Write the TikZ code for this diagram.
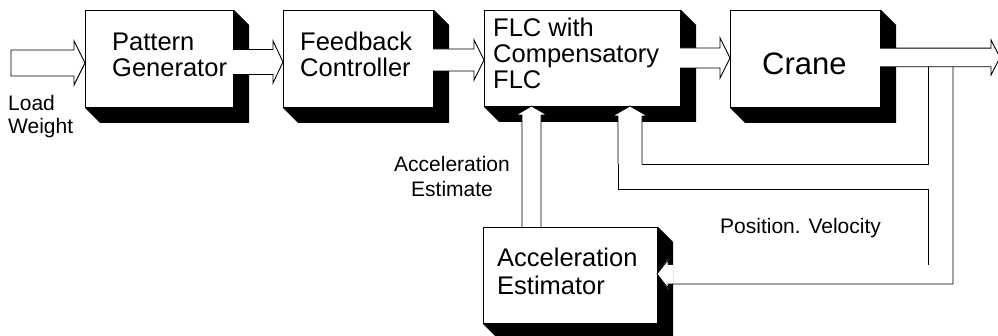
\documentclass[tikz,border=0pt]{standalone}
\usepackage{fontspec}
\setmainfont{Liberation Sans}
\usetikzlibrary{calc}
\tikzset{
  box/.style={draw, line width=1pt, fill=white, anchor=north west, inner sep=0pt},
  shadowfill/.style={fill=black},
  pipe/.style={line width=0.8pt, line join=miter},
  hollow/.style={fill=white, draw=black, line width=0.9pt, line join=miter},
  boxtext/.style={inner sep=0pt, anchor=base west, font=\fontsize{25.5}{27}\selectfont},
  cranetext/.style={inner sep=0pt, anchor=base west, font=\fontsize{31}{33}\selectfont},
  smalltext/.style={inner sep=0pt, font=\fontsize{21}{23}\selectfont},
}
% shadow of a box, offset down-right
\newcommand\boxshadow[1]{%
  \fill[shadowfill] (#1.north east) -- ++(15,15) -- ($(#1.south east)+(15,15)$)
    -- ($(#1.south west)+(15,15)$) -- (#1.south west) -- (#1.south east) -- cycle;}
% horizontal hollow arrow: start, tip, half shaft, half head, head length
\newcommand\hollowH[5]{%
  \filldraw[hollow] ($(#1)+(0,-#3)$) -- ($(#2)+(-#5,-#3)$) -- ($(#2)+(-#5,-#4)$) -- (#2)
    -- ($(#2)+(-#5,#4)$) -- ($(#2)+(-#5,#3)$) -- ($(#1)+(0,#3)$);}
% vertical hollow arrow pointing up: start (below), tip, half shaft, half head, head length
\newcommand\hollowV[5]{%
  \filldraw[hollow] ($(#1)+(-#3,0)$) -- ($(#2)+(-#3,#5)$) -- ($(#2)+(-#4,#5)$) -- (#2)
    -- ($(#2)+(#4,#5)$) -- ($(#2)+(#3,#5)$) -- ($(#1)+(#3,0)$);}
\begin{document}
\begin{tikzpicture}[x=1pt, y=-1pt]
\useasboundingbox (0,0) rectangle (998,336);
\fill[white] (0,0) rectangle (998,336);

% boxes
\node[box, minimum width=148pt, minimum height=97pt] (pg) at (85,10) {};
\node[box, minimum width=150pt, minimum height=97pt] (fc) at (283,10) {};
\node[box, minimum width=196pt, minimum height=96pt] (flc) at (484,10) {};
\node[box, minimum width=150pt, minimum height=97pt] (crane) at (730,10) {};
\node[box, minimum width=174pt, minimum height=96pt] (est) at (483,227) {};
\boxshadow{pg}
\boxshadow{fc}
\boxshadow{flc}
\boxshadow{crane}
\boxshadow{est}

% connector end points
\coordinate (a1s) at (11,63);   \coordinate (a1t) at (85,63);
\coordinate (a2s) at (233,62);  \coordinate (a2t) at (283,62);
\coordinate (a3s) at (433,60);  \coordinate (a3t) at (484,60);
\coordinate (a4s) at (680,58);  \coordinate (a4t) at (730,58);
\coordinate (a5s) at (880,57.5); \coordinate (a5t) at (1000,57.5);
\coordinate (v1s) at (531.5,227); \coordinate (v1t) at (531.5,106);
\coordinate (v2s) at (630,164); \coordinate (v2t) at (630,106);

% forward arrows
\filldraw[hollow] ($(a1s)+(0,-13)$) -- ($(a1t)+(-11,-13)$) -- ($(a1t)+(-11,-22)$) -- (a1t)
   -- ($(a1t)+(-11,22)$) -- ($(a1t)+(-11,13)$) -- ($(a1s)+(0,13)$) -- cycle;
\hollowH{a2s}{a2t}{12.5}{21}{10}
\hollowH{a3s}{a3t}{11}{20}{10}
\hollowH{a4s}{a4t}{10}{20}{10}
\hollowH{a5s}{a5t}{9.3}{17.5}{9}

% feedback arrows into FLC
\hollowV{v1s}{v1t}{9.5}{15.5}{9}
\hollowV{v2s}{v2t}{12}{17.5}{10}

% feedback pipes
\draw[pipe] (928,67) -- (928,164) -- (642,164);
\draw[pipe] (618,164) -- (618,189) -- (928,189) -- (928,265);
\fill[white] (673,265) -- (668,265) -- (668,259) -- (657,274) -- (668,289) -- (668,284) -- (673,284) -- cycle;
\draw[pipe] (668,265) -- (668,260) -- (657,274) -- (668,288) -- (668,284) -- (953,284) -- (953,67);

% box texts
\node[boxtext] (pg1) at (112,51) {Pattern};
\node[boxtext] (pg2) at (112,77) {Generator};
\node[boxtext] (fc1) at (300,51) {Feedback};
\node[boxtext] (fc2) at (300,77) {Controller};
\node[boxtext] (flc1) at (493,37) {FLC with};
\node[boxtext] (flc2) at (493,63) {Compensatory};
\node[boxtext] (flc3) at (493,89) {FLC};
\node[cranetext] (cr) at (762,75) {Crane};
\node[boxtext] (est1) at (497,267) {Acceleration};
\node[boxtext] (est2) at (497,295) {Estimator};

% labels
\node[smalltext, anchor=base west] (lw1) at (8,111) {Load};
\node[smalltext, anchor=base west] (lw2) at (8,134) {Weight};
\node[smalltext, anchor=base] (ae1) at (452,172) {Acceleration};
\node[smalltext, anchor=base] (ae2) at (452,197) {Estimate};
\node[smalltext, anchor=base west] (pv) at (720,234) {Position. Velocity};
\end{tikzpicture}
\end{document}
